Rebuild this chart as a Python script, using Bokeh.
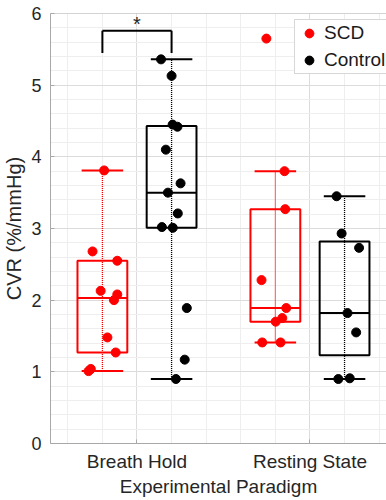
from bokeh.plotting import figure
from bokeh.models import (ColumnDataSource, FixedTicker, SingleIntervalTicker,
                          Legend, LegendItem, Range1d, Span)
from bokeh.embed import file_html
from bokeh.resources import INLINE
from bokeh.core.properties import value

# ---------------- data ----------------
paradigms = ["Breath Hold", "Resting State"]
series = ["SCD", "Control"]

# box statistics, per paradigm [Breath Hold, Resting State]
scd_low = [1.01, 1.41]
scd_q1 = [1.27, 1.70]
scd_med = [2.03, 1.89]
scd_q3 = [2.55, 3.27]
scd_high = [3.81, 3.80]

ctrl_low = [0.90, 0.90]
ctrl_q1 = [3.01, 1.23]
ctrl_med = [3.50, 1.82]
ctrl_q3 = [4.43, 2.82]
ctrl_high = [5.36, 3.45]

# individual subjects (value, horizontal jitter)
scd_breath = [3.81, 2.68, 2.55, 2.13, 2.08, 2.00, 1.48, 1.27, 1.04, 1.01]
scd_breath_jit = [0.01, -0.057, 0.086, -0.01, 0.086, 0.067, 0.029, 0.077, -0.067, -0.08]
scd_rest = [5.65, 3.80, 3.27, 2.28, 1.89, 1.75, 1.70, 1.41, 1.41]
scd_rest_jit = [-0.052, 0.053, 0.057, -0.08, 0.063, 0.04, 0.002, -0.076, 0.03]

ctrl_breath = [5.36, 5.13, 4.45, 4.42, 4.10, 3.63, 3.50, 3.21, 3.02, 3.01, 1.89, 1.17, 0.90]
ctrl_breath_jit = [-0.061, 0.0, 0.006, 0.034, -0.033, 0.052, -0.021, 0.036, -0.056, 0.007, 0.088, 0.076, 0.025]
ctrl_rest = [3.45, 2.93, 2.73, 1.82, 1.55, 0.90, 0.91]
ctrl_rest_jit = [-0.046, -0.017, 0.084, 0.017, 0.067, -0.036, 0.03]

sig_level = 5.76   # significance bracket height
sig_drop = 5.45    # bracket leg bottoms
sig_mark = "*"

# ---------------- styling ----------------
RED = "#ff0000"
BLACK = "#000000"
FONT = "Liberation Sans"
TXT = "#262626"
AXC = "#a8a8a8"
off = {"SCD": -0.2, "Control": 0.2}
box_half = 0.144
cap_half = 0.12

p = figure(width=386, height=500, x_range=Range1d(0.5, 2.4425), y_range=Range1d(0, 6),
           output_backend="svg", toolbar_location=None,
           min_border_left=48, min_border_right=0, min_border_top=13, min_border_bottom=57)
p.outline_line_color = None
p.background_fill_color = "white"
p.border_fill_color = "white"

cat_x = [1, 2]

p.xaxis.ticker = FixedTicker(ticks=cat_x, minor_ticks=[0.6, 0.8, 1.2, 1.4, 1.6, 1.8, 2.2, 2.4])
p.xaxis.major_label_overrides = {1: paradigms[0], 2: paradigms[1]}
p.yaxis.ticker = SingleIntervalTicker(interval=1, num_minor_ticks=5)

for ax in (p.xaxis[0], p.yaxis[0]):
    ax.axis_line_color = AXC
    ax.major_tick_line_color = AXC
    ax.major_tick_in = 4
    ax.major_tick_out = 0
    ax.minor_tick_line_color = None
    ax.major_label_text_font = FONT
    ax.major_label_text_color = TXT
    ax.axis_label_text_font = FONT
    ax.axis_label_text_font_style = "normal"
    ax.axis_label_text_color = TXT

p.xaxis.major_label_text_font_size = "19px"
p.xaxis.axis_label = "Experimental Paradigm"
p.xaxis.axis_label_text_font_size = "19px"
p.xaxis.major_label_standoff = 3
p.xaxis.axis_label_standoff = 1
p.yaxis.major_label_text_font_size = "18px"
p.yaxis.axis_label = "CVR (%/mmHg)"
p.yaxis.axis_label_text_font_size = "20px"
p.yaxis.major_label_standoff = 5
p.yaxis.axis_label_standoff = 3

# top box edge
p.add_layout(Span(location=6, dimension="width", line_color=AXC, line_width=1))

for g in (p.xgrid[0], p.ygrid[0]):
    g.grid_line_color = "#dcdcdc"
    g.minor_grid_line_color = "#eeeeee"

# ---------------- boxes ----------------
def draw_box(name, low, q1, med, q3, high, color):
    xs = [c + off[name] for c in cat_x]
    src = ColumnDataSource(dict(
        x=xs, l=[x - box_half for x in xs], r=[x + box_half for x in xs],
        cl=[x - cap_half for x in xs], cr=[x + cap_half for x in xs],
        low=low, q1=q1, med=med, q3=q3, high=high))
    p.segment(x0="x", y0="low", x1="x", y1="high", source=src, line_color=color,
              line_width=1.3, line_dash="1 1")
    p.quad(left="l", right="r", bottom="q1", top="q3", source=src, fill_color=None,
           line_color=color, line_width=2)
    p.segment(x0="l", y0="med", x1="r", y1="med", source=src, line_color=color, line_width=2)
    p.segment(x0="cl", y0="high", x1="cr", y1="high", source=src, line_color=color, line_width=2)
    p.segment(x0="cl", y0="low", x1="cr", y1="low", source=src, line_color=color, line_width=2)

draw_box("SCD", scd_low, scd_q1, scd_med, scd_q3, scd_high, RED)
draw_box("Control", ctrl_low, ctrl_q1, ctrl_med, ctrl_q3, ctrl_high, BLACK)

# ---------------- points ----------------
def pts(name, vals_by_cat, jit_by_cat):
    xs, ys = [], []
    for c, vals, jit in zip(cat_x, vals_by_cat, jit_by_cat):
        for v, j in zip(vals, jit):
            xs.append(c + off[name] + j)
            ys.append(v)
    return ColumnDataSource(dict(x=xs, y=ys))

r_scd = p.scatter("x", "y", source=pts("SCD", [scd_breath, scd_rest], [scd_breath_jit, scd_rest_jit]),
                  size=9, fill_color=RED, line_color=RED)
r_ctrl = p.scatter("x", "y", source=pts("Control", [ctrl_breath, ctrl_rest], [ctrl_breath_jit, ctrl_rest_jit]),
                   size=9, fill_color=BLACK, line_color=BLACK)

# ---------------- significance bracket ----------------
bx0 = cat_x[0] + off["SCD"]
bx1 = cat_x[0] + off["Control"]
br = ColumnDataSource(dict(x=[bx0, bx0, bx1], y=[sig_drop, sig_level, sig_level],
                           x1=[bx0, bx1, bx1], y1=[sig_level, sig_level, sig_drop]))
p.segment(x0="x", y0="y", x1="x1", y1="y1", source=br, line_color=BLACK, line_width=2)
p.text(x=[(bx0 + bx1) / 2], y=[sig_level], text=[sig_mark], text_font=value(FONT),
       text_font_size="20px", text_align="center", text_baseline="bottom", text_color=TXT,
       y_offset=4)

# ---------------- legend ----------------
legend = Legend(items=[LegendItem(label=series[0], renderers=[r_scd]),
                       LegendItem(label=series[1], renderers=[r_ctrl])],
                location=(244, 369), padding=2, spacing=5, glyph_width=24, glyph_height=22,
                label_height=22, label_standoff=3, label_text_font=FONT,
                label_text_font_size="19px", label_text_color="#1a1a1a",
                border_line_color="#b0b0b0", border_line_width=1,
                background_fill_color="white", background_fill_alpha=1, margin=0)
p.add_layout(legend, "center")

open("out.html", "w").write(file_html(p, INLINE))
